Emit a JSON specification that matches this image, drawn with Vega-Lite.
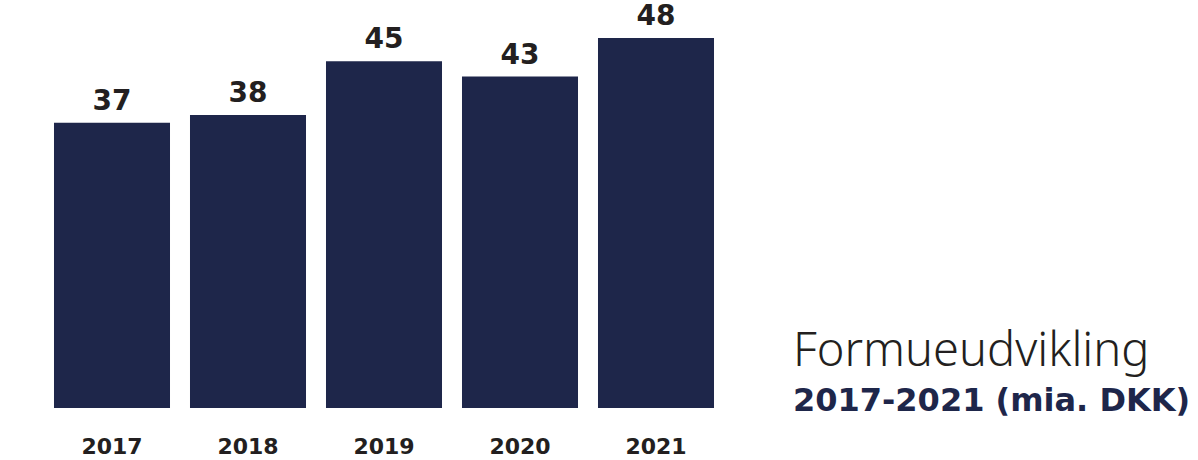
{
  "$schema": "https://vega.github.io/schema/vega-lite/v6.json",
  "width": 680,
  "height": 408,
  "autosize": "none",
  "padding": {"left": 44, "top": 0, "right": 474, "bottom": 52},
  "background": "white",
  "title": {
    "text": "Formueudvikling",
    "subtitle": "2017-2021 (mia. DKK)",
    "anchor": "start",
    "frame": "group",
    "orient": "top",
    "dx": 749,
    "dy": 422,
    "font": "Noto Sans",
    "fontWeight": 300,
    "fontSize": 47,
    "color": "#231f20",
    "subtitleFont": "DejaVu Sans",
    "subtitleFontWeight": "bold",
    "subtitleFontSize": 32,
    "subtitleColor": "#1e264a",
    "subtitlePadding": 10
  },
  "data": {
    "values": [
      {"year": "2017", "value": 37},
      {"year": "2018", "value": 38},
      {"year": "2019", "value": 45},
      {"year": "2020", "value": 43},
      {"year": "2021", "value": 48}
    ]
  },
  "encoding": {
    "x": {
      "field": "year",
      "type": "ordinal",
      "scale": {"paddingInner": 0.147, "paddingOuter": 0.0735},
      "axis": {
        "title": null,
        "ticks": false,
        "domain": false,
        "labelAngle": 0,
        "labelPadding": 28,
        "labelFont": "DejaVu Sans",
        "labelFontWeight": "bold",
        "labelFontSize": 22,
        "labelColor": "#231f20"
      }
    },
    "y": {
      "field": "value",
      "type": "quantitative",
      "scale": {"domain": [0, 52.93], "nice": false},
      "axis": null
    }
  },
  "layer": [
    {"mark": {"type": "bar", "color": "#1e264a"}},
    {
      "mark": {
        "type": "text",
        "baseline": "alphabetic",
        "dy": -13,
        "font": "DejaVu Sans",
        "fontWeight": "bold",
        "fontSize": 28,
        "color": "#231f20"
      },
      "encoding": {"text": {"field": "value", "type": "quantitative"}}
    }
  ],
  "config": {"view": {"stroke": null}}
}
